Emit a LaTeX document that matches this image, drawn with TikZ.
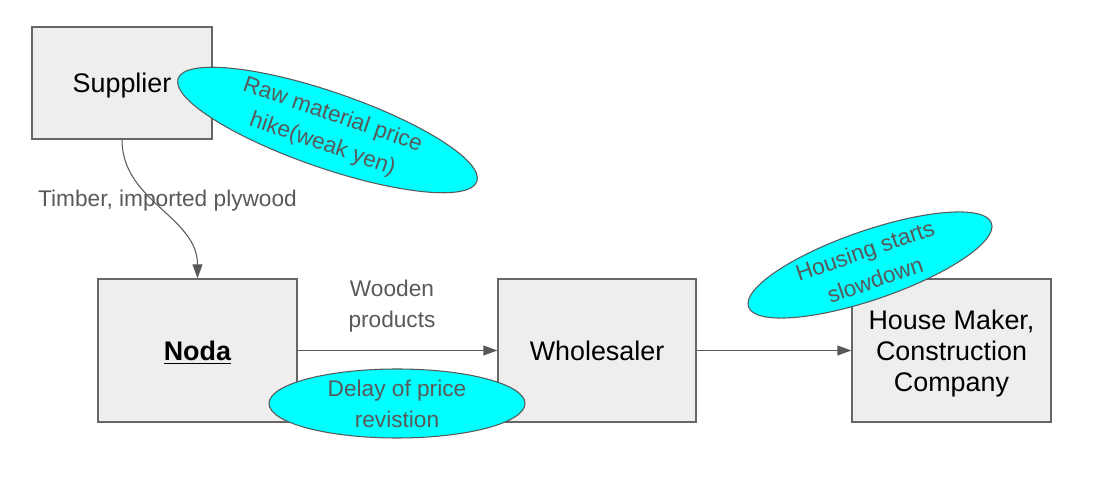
\documentclass[tikz,border=0pt]{standalone}
\usepackage{fontspec}
\setmainfont{Liberation Sans}
\usetikzlibrary{arrows.meta,shapes.geometric}
\definecolor{boxgray}{HTML}{EEEEEE}
\definecolor{linegray}{HTML}{666666}
\definecolor{textgray}{HTML}{595959}
\definecolor{bubblecyan}{HTML}{00FFFF}
\begin{document}
\begin{tikzpicture}[>={Triangle[length=0.28cm,width=0.2cm]},
  box/.style={draw=linegray, line width=0.8pt, fill=boxgray, align=center, text depth=0pt,
    font=\fontsize{15.3}{17.6}\selectfont, minimum width=3.98cm, minimum height=2.86cm},
  bubble/.style={ellipse, draw=textgray, line width=0.6pt, fill=bubblecyan, inner sep=0pt},
  note/.style={text=textgray, align=center, font=\fontsize{12.9}{17.6}\selectfont},
  flow/.style={->, draw=textgray, line width=0.6pt}]
 \useasboundingbox (0,0) rectangle (22.04,-9.74);
 \node[box, minimum width=3.6cm, minimum height=2.24cm] (supplier) at (2.44,-1.66) {Supplier};
 \node[box] (noda) at (3.95,-7.01) {\underline{\textbf{Noda}}};
 \node[box, minimum width=3.96cm] (wholesaler) at (11.94,-7.01) {Wholesaler};
 \node[box] (maker) at (19.03,-7.01) {House Maker,\\Construction\\Company};
 \draw[flow] (supplier.south) to[out=-90, in=90] (noda.north);
 \draw[flow] (noda) -- (wholesaler);
 \draw[flow] (wholesaler) -- (maker);
 \node[note] (timber) at (3.35,-4.02) {Timber, imported plywood};
 \node[note] (wooden) at (7.84,-6.13) {Wooden\\products};
 \node[bubble, minimum width=6.32cm, minimum height=1.52cm, rotate=-19] (hike) at (6.55,-2.6) {};
 \node[note, rotate=-19] (hiketext) at (hike) {Raw material price\\hike(weak yen)};
 \node[bubble, minimum width=5.12cm, minimum height=1.38cm] (delay) at (7.94,-8.07) {};
 \node[note] (delaytext) at (delay) {Delay of price\\revistion};
 \node[bubble, minimum width=5.14cm, minimum height=1.38cm, rotate=19] (housing) at (17.4,-5.3) {};
 \node[note, rotate=19] (housingtext) at (housing) {Housing starts\\slowdown};
\end{tikzpicture}
\end{document}
